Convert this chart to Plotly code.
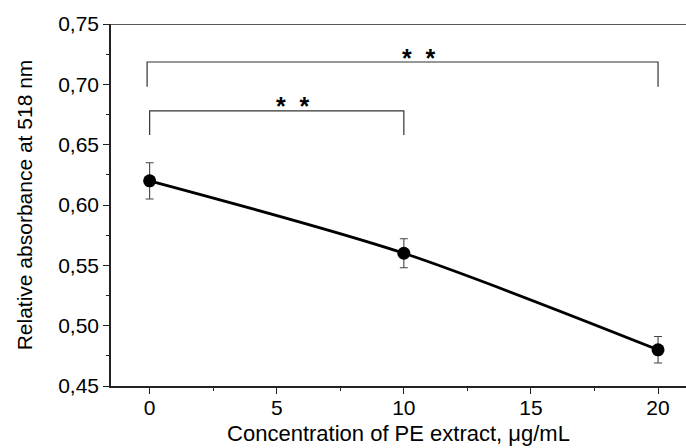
import plotly.graph_objects as go

conc = [0, 10, 20]
absorb = [0.62, 0.56, 0.48]
err = [0.015, 0.012, 0.011]

x_ticks = [0, 5, 10, 15, 20]
y_ticks = [0.45, 0.50, 0.55, 0.60, 0.65, 0.70, 0.75]

# significance brackets: (x_left, x_right, y_top, y_bottom, label_x, label_y, label)
brackets = [
    (-0.1, 20, 0.7185, 0.698, 10.59, 0.7222, "<b>*\u00a0\u00a0*</b>"),
    (0, 10, 0.678, 0.658, 5.65, 0.6817, "<b>*\u00a0\u00a0*</b>"),
]

FONT = "Liberation Sans, Arial, sans-serif"

fig = go.Figure()
fig.add_trace(go.Scatter(
    x=conc, y=absorb, mode="lines+markers",
    line=dict(color="black", width=2.8, shape="spline", smoothing=0.8),
    marker=dict(color="black", size=13),
    error_y=dict(type="data", array=err, color="#444444", thickness=1.1, width=4),
    showlegend=False,
))

for xl, xr, yt, yb, lx, ly, lab in brackets:
    fig.add_trace(go.Scatter(
        x=[xl, xl, xr, xr], y=[yb, yt, yt, yb], mode="lines",
        line=dict(color="#333333", width=1.2), showlegend=False, hoverinfo="skip",
    ))
    fig.add_annotation(x=lx, y=ly, text=lab, showarrow=False,
                       font=dict(size=25, color="black", family=FONT),
                       yanchor="middle")

fig.add_shape(type="line", xref="paper", yref="y", x0=0, x1=1, y0=0.75, y1=0.75,
              line=dict(color="#222222", width=1.5))

fig.update_layout(
    width=686, height=448,
    margin=dict(l=111, r=0, t=24, b=62),
    plot_bgcolor="white", paper_bgcolor="white",
    separators=",.",
    font=dict(family=FONT, size=21, color="black"),
    xaxis=dict(
        range=[-1.52, 21.1], tickvals=x_ticks, showgrid=False, zeroline=False,
        showline=True, linecolor="#222222", linewidth=1.5,
        ticks="outside", ticklen=6, tickwidth=1.2, tickcolor="#222222",
        ticklabelstandoff=-4,
        minor=dict(dtick=2.5, tick0=0, ticks="outside", ticklen=3, tickcolor="#222222"),
        title=dict(text="Concentration of PE extract, μg/mL", font=dict(size=22), standoff=8),
        tickfont=dict(size=21),
    ),
    yaxis=dict(
        range=[0.45, 0.75], tickvals=y_ticks, tickformat=".2f", showgrid=False, zeroline=False,
        showline=True, linecolor="#222222", linewidth=1.5,
        ticks="outside", ticklen=6, tickwidth=1.2, tickcolor="#222222",
        minor=dict(dtick=0.025, tick0=0.45, ticks="outside", ticklen=3, tickcolor="#222222"),
        title=dict(text="Relative absorbance at 518 nm", font=dict(size=21), standoff=20),
        tickfont=dict(size=21),
    ),
)

fig.write_html("out.html", config={"displayModeBar": False},
               post_script="document.body.style.margin='0';document.body.style.overflow='hidden';")
